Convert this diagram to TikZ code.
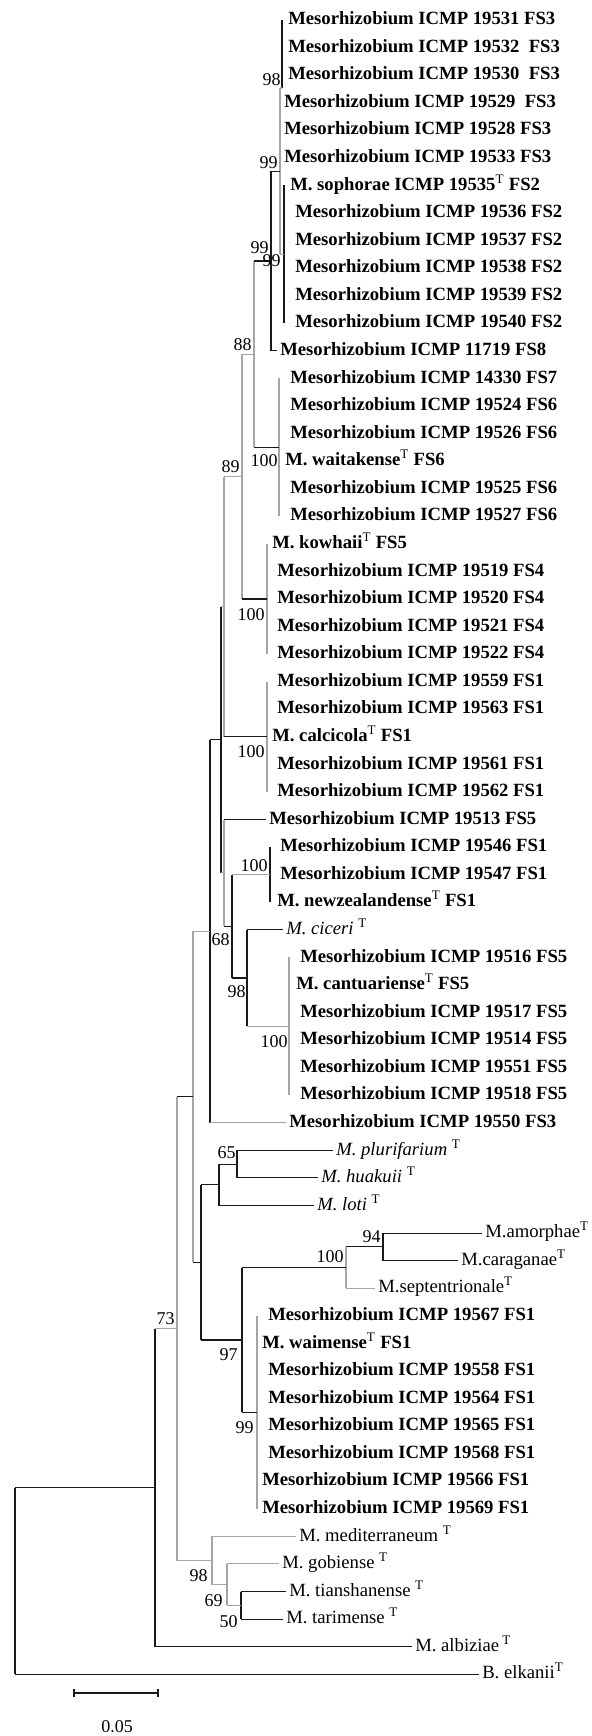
\documentclass[tikz,border=0pt]{standalone}
\usepackage{fontspec}
\setmainfont{Liberation Serif}
\usepackage{xcolor}
\definecolor{trblack}{RGB}{25,25,25}
\definecolor{trgray}{RGB}{165,165,165}
\usepackage{tikz}
\newcommand{\typeT}{\textsuperscript{\normalfont T}}

\begin{document}
\begin{tikzpicture}[x=0.75pt, y=-0.75pt,
    leaf/.style={anchor=west, inner xsep=2.25pt, inner ysep=0pt, text height=9.5pt, text depth=2.5pt, font=\fontsize{14}{16}\selectfont\bfseries},
    refleaf/.style={leaf, font=\fontsize{14}{16}\selectfont},
    refit/.style={leaf, font=\fontsize{14}{16}\selectfont\itshape},
    boot/.style={anchor=east, inner sep=0pt, font=\fontsize{13.5}{15}\selectfont},
    brk/.style={draw=trblack, line width=0.8pt},
    brg/.style={draw=trgray, line width=0.8pt}]
  \useasboundingbox (0,0) rectangle (592,1736);

  % FS3 / FS2 / FS8 group
  \node[leaf] (l19531) at (285,20.0)  {Mesorhizobium ICMP 19531 FS3};
  \node[leaf] (l19532) at (285,47.6)  {Mesorhizobium ICMP 19532\ \ FS3};
  \node[leaf] (l19530) at (285,75.1)  {Mesorhizobium ICMP 19530\ \ FS3};
  \node[leaf] (l19529) at (281,102.7) {Mesorhizobium ICMP 19529\ \ FS3};
  \node[leaf] (l19528) at (281,130.3) {Mesorhizobium ICMP 19528 FS3};
  \node[leaf] (l19533) at (281,157.9) {Mesorhizobium ICMP 19533 FS3};
  \node[leaf] (lsoph)  at (287,185.4) {M. sophorae ICMP 19535\typeT\ FS2};
  \node[leaf] (l19536) at (292,213.0) {Mesorhizobium ICMP 19536 FS2};
  \node[leaf] (l19537) at (292,240.6) {Mesorhizobium ICMP 19537 FS2};
  \node[leaf] (l19538) at (292,268.1) {Mesorhizobium ICMP 19538 FS2};
  \node[leaf] (l19539) at (292,295.7) {Mesorhizobium ICMP 19539 FS2};
  \node[leaf] (l19540) at (292,323.3) {Mesorhizobium ICMP 19540 FS2};
  \node[leaf] (l11719) at (277,350.8) {Mesorhizobium ICMP 11719 FS8};

  % FS7 / FS6 group
  \node[leaf] (l14330) at (287,378.4) {Mesorhizobium ICMP 14330 FS7};
  \node[leaf] (l19524) at (287,406.0) {Mesorhizobium ICMP 19524 FS6};
  \node[leaf] (l19526) at (287,433.6) {Mesorhizobium ICMP 19526 FS6};
  \node[leaf] (lwait)  at (282,461.1) {M. waitakense\typeT\ FS6};
  \node[leaf] (l19525) at (287,488.7) {Mesorhizobium ICMP 19525 FS6};
  \node[leaf] (l19527) at (287,516.3) {Mesorhizobium ICMP 19527 FS6};

  % FS5 / FS4 / FS1 group
  \node[leaf] (lkowh)  at (269,543.8) {M. kowhaii\typeT\ FS5};
  \node[leaf] (l19519) at (274,571.4) {Mesorhizobium ICMP 19519 FS4};
  \node[leaf] (l19520) at (274,599.0) {Mesorhizobium ICMP 19520 FS4};
  \node[leaf] (l19521) at (274,626.5) {Mesorhizobium ICMP 19521 FS4};
  \node[leaf] (l19522) at (274,654.1) {Mesorhizobium ICMP 19522 FS4};
  \node[leaf] (l19559) at (274,681.7) {Mesorhizobium ICMP 19559 FS1};
  \node[leaf] (l19563) at (274,709.3) {Mesorhizobium ICMP 19563 FS1};
  \node[leaf] (lcalc)  at (269,736.8) {M. calcicola\typeT\ FS1};
  \node[leaf] (l19561) at (274,764.4) {Mesorhizobium ICMP 19561 FS1};
  \node[leaf] (l19562) at (274,792.0) {Mesorhizobium ICMP 19562 FS1};
  \node[leaf] (l19513) at (266,819.5) {Mesorhizobium ICMP 19513 FS5};
  \node[leaf] (l19546) at (277,847.1) {Mesorhizobium ICMP 19546 FS1};
  \node[leaf] (l19547) at (277,874.7) {Mesorhizobium ICMP 19547 FS1};
  \node[leaf] (lnewz)  at (274,902.2) {M. newzealandense\typeT\ FS1};
  \node[refit] (lcic)  at (283,929.8) {M. ciceri \typeT};
  \node[leaf] (l19516) at (297,957.4) {Mesorhizobium ICMP 19516 FS5};
  \node[leaf] (lcant)  at (293,985.0) {M. cantuariense\typeT\ FS5};
  \node[leaf] (l19517) at (297,1012.5) {Mesorhizobium ICMP 19517 FS5};
  \node[leaf] (l19514) at (297,1040.1) {Mesorhizobium ICMP 19514 FS5};
  \node[leaf] (l19551) at (297,1067.7) {Mesorhizobium ICMP 19551 FS5};
  \node[leaf] (l19518) at (297,1095.2) {Mesorhizobium ICMP 19518 FS5};
  \node[leaf] (l19550) at (286,1122.8) {Mesorhizobium ICMP 19550 FS3};

  % reference species and waimense group
  \node[refit] (lplur) at (333,1150.4) {M. plurifarium \typeT};
  \node[refit] (lhuak) at (318,1177.9) {M. huakuii \typeT};
  \node[refit] (lloti) at (314,1205.5) {M. loti \typeT};
  \node[refleaf] (lamor) at (482,1233.1) {M.amorphae\typeT};
  \node[refleaf] (lcara) at (458,1260.7) {M.caraganae\typeT};
  \node[refleaf] (lsept) at (375,1288.2) {M.septentrionale\typeT};
  \node[leaf] (l19567) at (265,1315.8) {Mesorhizobium ICMP 19567 FS1};
  \node[leaf] (lwaim)  at (259,1343.4) {M. waimense\typeT\ FS1};
  \node[leaf] (l19558) at (265,1370.9) {Mesorhizobium ICMP 19558 FS1};
  \node[leaf] (l19564) at (265,1398.5) {Mesorhizobium ICMP 19564 FS1};
  \node[leaf] (l19565) at (265,1426.1) {Mesorhizobium ICMP 19565 FS1};
  \node[leaf] (l19568) at (265,1453.6) {Mesorhizobium ICMP 19568 FS1};
  \node[leaf] (l19566) at (259,1481.2) {Mesorhizobium ICMP 19566 FS1};
  \node[leaf] (l19569) at (259,1508.8) {Mesorhizobium ICMP 19569 FS1};
  \node[refleaf] (lmedi) at (296,1536.4) {M. mediterraneum \typeT};
  \node[refleaf] (lgobi) at (279,1563.9) {M. gobiense \typeT};
  \node[refleaf] (ltian) at (286,1591.5) {M. tianshanense \typeT};
  \node[refleaf] (ltari) at (283,1619.1) {M. tarimense \typeT};
  \node[refleaf] (lalbi) at (412,1646.6) {M. albiziae\,\typeT};
  \node[refleaf] (lelka) at (479,1674.2) {B. elkanii\typeT};

  % internal nodes
  \coordinate (n98)     at (282,88);
  \coordinate (n99c)    at (284,254.4);
  \coordinate (n99b)    at (280,171.2);
  \coordinate (n99a)    at (271,261);
  \coordinate (n100wai) at (279,447.3);
  \coordinate (n88)     at (254,354.2);
  \coordinate (n100kow) at (267,599);
  \coordinate (n89)     at (242,476.6);
  \coordinate (n100cal) at (267,736.8);
  \coordinate (nC)      at (224,606.7);
  \coordinate (n100nz)  at (270,874.7);
  \coordinate (n100fs5) at (289,1026.3);
  \coordinate (n98c)    at (247,978);
  \coordinate (n68)     at (232,926.4);
  \coordinate (nE)      at (224,872.9);
  \coordinate (nD)      at (221,739.8);
  \coordinate (nF)      at (210,931.3);
  \coordinate (n65)     at (237,1164.2);
  \coordinate (nLoti)   at (219,1184.8);
  \coordinate (n94)     at (383,1246.9);
  \coordinate (n100c)   at (346,1267.6);
  \coordinate (n99w)    at (257,1412.3);
  \coordinate (n97)     at (242,1340);
  \coordinate (nB)      at (201,1262.4);
  \coordinate (nA)      at (193,1096.8);
  \coordinate (n50)     at (241,1605.3);
  \coordinate (n69)     at (227,1584.6);
  \coordinate (nMed)    at (212,1560.5);
  \coordinate (n73)     at (177,1328.7);
  \coordinate (n155)    at (155,1487.7);
  \coordinate (root)    at (15,1581);

  % verticals
  \draw[brk] (root |- n155) -- (root |- lelka);
  \draw[brk] (n155 |- n73) -- (n155 |- lalbi);
  \draw[brg] (n73 |- nA) -- (n73 |- nMed);
  \draw[brg] (nMed |- lmedi) -- (nMed |- n69);
  \draw[brg] (n69 |- lgobi) -- (n69 |- n50);
  \draw[brk] (n50 |- ltian) -- (n50 |- ltari);
  \draw[brg] (nA |- nF) -- (nA |- nB);
  \draw[brk] (nB |- nLoti) -- (nB |- n97);
  \draw[brk] (nLoti |- n65) -- (nLoti |- lloti);
  \draw[brk] (n65 |- lplur) -- (n65 |- lhuak);
  \draw[brk] (n97 |- n100c) -- (n97 |- n99w);
  \draw[brg] (n100c |- n94) -- (n100c |- lsept);
  \draw[brk] (n94 |- lamor) -- (n94 |- lcara);
  \draw[brg] (n99w |- l19567) -- (n99w |- l19569);
  \draw[brk] (nF |- nD) -- (nF |- l19550);
  \draw[brk] (nD |- nC) -- (nD |- nE);
  \draw[brg] (nC |- n89) -- (nC |- n100cal);
  \draw[brg] (n89 |- n88) -- (n89 |- n100kow);
  \draw[brg] (n88 |- n99a) -- (n88 |- n100wai);
  \draw[brk] (n99a |- n99b) -- (n99a |- l11719);
  \draw[brg] (n99b |- n98) -- (n99b |- n99c);
  \draw[brk] (n98 |- l19531) -- (n98);
  \draw[brk] (n99c |- lsoph) -- (n99c |- l19540);
  \draw[brg] (n100wai |- l14330) -- (n100wai |- l19527);
  \draw[brg] (n100kow |- lkowh) -- (n100kow |- l19522);
  \draw[brg] (n100cal |- l19559) -- (n100cal |- l19562);
  \draw[brg] (nE |- l19513) -- (nE |- n68);
  \draw[brk] (n68 |- n100nz) -- (n68 |- n98c);
  \draw[brk] (n100nz |- l19546) -- (n100nz |- lnewz);
  \draw[brk] (n98c |- lcic) -- (n98c |- n100fs5);
  \draw[brg] (n100fs5 |- l19516) -- (n100fs5 |- l19518);

  % horizontals
  \draw[brk] (root |- n155) -- (n155);
  \draw[brk] (root |- lelka) -- (lelka);
  \draw[brg] (n155 |- n73) -- (n73);
  \draw[brk] (n155 |- lalbi) -- (lalbi);
  \draw[brk] (n73 |- nA) -- (nA);
  \draw[brg] (n73 |- nMed) -- (nMed);
  \draw[brg] (nMed |- lmedi) -- (lmedi);
  \draw[brg] (nMed |- n69) -- (n69);
  \draw[brg] (n69 |- lgobi) -- (lgobi);
  \draw[brg] (n69 |- n50) -- (n50);
  \draw[brk] (n50 |- ltian) -- (ltian);
  \draw[brk] (n50 |- ltari) -- (ltari);
  \draw[brg] (nA |- nF) -- (nF);
  \draw[brk] (nA |- nB) -- (nB);
  \draw[brk] (nB |- nLoti) -- (nLoti);
  \draw[brk] (nLoti |- n65) -- (n65);
  \draw[brk] (nLoti |- lloti) -- (lloti);
  \draw[brk] (n65 |- lplur) -- (lplur);
  \draw[brk] (n65 |- lhuak) -- (lhuak);
  \draw[brk] (nB |- n97) -- (n97);
  \draw[brk] (n97 |- n100c) -- (n100c);
  \draw[brk] (n97 |- n99w) -- (n99w);
  \draw[brk] (n100c |- n94) -- (n94);
  \draw[brg] (n100c |- lsept) -- (lsept);
  \draw[brk] (n94 |- lamor) -- (lamor);
  \draw[brk] (n94 |- lcara) -- (lcara);
  \draw[brk] (nF |- nD) -- (nD);
  \draw[brg] (nF |- l19550) -- (l19550);
  \draw[brg] (nD |- nC) -- (nC);
  \draw[brg] (nD |- nE) -- (nE);
  \draw[brg] (nC |- n89) -- (n89);
  \draw[brk] (nC |- n100cal) -- (n100cal);
  \draw[brg] (n89 |- n88) -- (n88);
  \draw[brk] (n89 |- n100kow) -- (n100kow);
  \draw[brk] (n88 |- n99a) -- (n99a);
  \draw[brk] (n88 |- n100wai) -- (n100wai);
  \draw[brk] (n99a |- n99b) -- (n99b);
  \draw[brk] (n99a |- l11719) -- (l11719);
  \draw[brg] (n99b |- n98) -- (n98);
  \draw[brg] (n99b |- n99c) -- (n99c);
  \draw[brk] (nE |- l19513) -- (l19513);
  \draw[brk] (nE |- n68) -- (n68);
  \draw[brg] (n68 |- n100nz) -- (n100nz);
  \draw[brk] (n68 |- n98c) -- (n98c);
  \draw[brk] (n98c |- lcic) -- (lcic);
  \draw[brg] (n98c |- n100fs5) -- (n100fs5);

  % bootstrap values
  \node[boot] at (281,80)   {98};
  \node[boot] at (278,163)  {99};
  \node[boot] at (269,248)  {99};
  \node[boot] at (281,261)  {99};
  \node[boot] at (252,345)  {88};
  \node[boot] at (278,461)  {100};
  \node[boot] at (240,467)  {89};
  \node[boot] at (265,615)  {100};
  \node[boot] at (265,752)  {100};
  \node[boot] at (268,866)  {100};
  \node[boot] at (230,940)  {68};
  \node[boot] at (246,992)  {98};
  \node[boot] at (288,1042) {100};
  \node[boot] at (236,1153) {65};
  \node[boot] at (381,1237) {94};
  \node[boot] at (344,1257) {100};
  \node[boot] at (175,1319) {73};
  \node[boot] at (238,1355) {97};
  \node[boot] at (254,1428) {99};
  \node[boot] at (208,1576) {98};
  \node[boot] at (223,1601) {69};
  \node[boot] at (238,1622) {50};

  % scale bar
  \coordinate (sbl) at (74,1693);
  \coordinate (sbr) at (158,1693);
  \draw[brk] (sbl) -- (sbr);
  \draw[brk] ([yshift=3pt]sbl) -- ([yshift=-3pt]sbl);
  \draw[brk] ([yshift=3pt]sbr) -- ([yshift=-3pt]sbr);
  \node[boot, anchor=center] (sblab) at (117,1727) {0.05};
\end{tikzpicture}
\end{document}
